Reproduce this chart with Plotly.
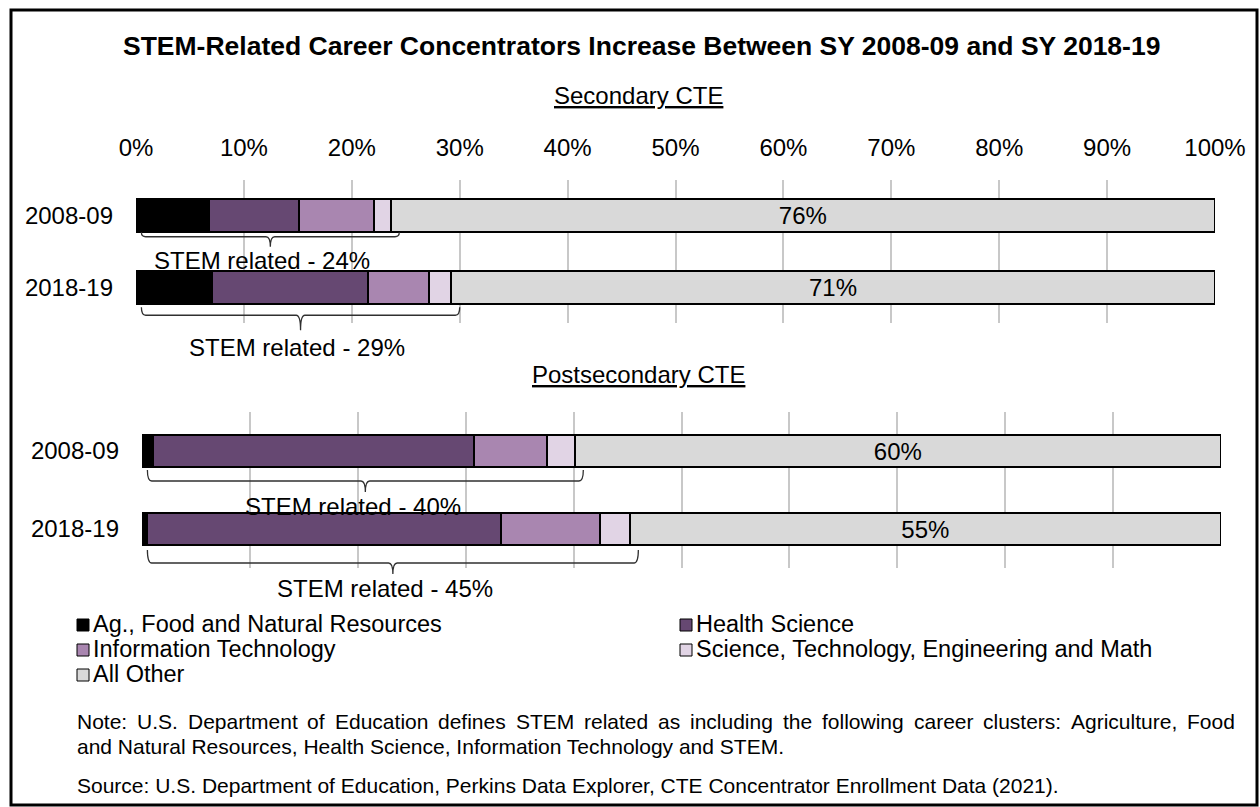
import plotly.graph_objects as go

# ---------------------------------------------------------------- data
years = ["2008-09", "2018-19"]
clusters = [
    "Ag., Food and Natural Resources",
    "Health Science",
    "Information Technology",
    "Science, Technology, Engineering and Math",
    "All Other",
]

# Secondary CTE concentrators, percent of all concentrators (2008-09, 2018-19)
sec_ag = [6.8, 7.0]
sec_health = [8.3, 14.5]
sec_it = [7.0, 5.7]
sec_stem = [1.5, 2.0]
sec_other = [76.4, 70.8]

# Postsecondary CTE concentrators, percent of all concentrators
post_ag = [1.0, 0.5]
post_health = [29.8, 32.8]
post_it = [6.7, 9.1]
post_stem = [2.6, 2.8]
post_other = [59.9, 54.8]

tick_values = list(range(0, 101, 10))
tick_labels = [f"{v}%" for v in tick_values]

note_lines = [
    "Note: U.S. Department of Education defines STEM related as including the following career clusters: Agriculture, Food",
    "and Natural Resources, Health Science, Information Technology and STEM.",
]
source_line = "Source: U.S. Department of Education, Perkins Data Explorer, CTE Concentrator Enrollment Data (2021)."

# ---------------------------------------------------------------- style
W, H = 1260, 807
FONT = "Arial, 'Liberation Sans', sans-serif"
colors = ["#000000", "#664872", "#A986B0", "#E1D4E5", "#D9D9D9"]
GRID = "#C8C8C8"

# Arial advance widths (1/1000 em) used to lay out the justified note line
_ARIAL = {" ": 278, ",": 278, ".": 278, ":": 278, "-": 333, "(": 333, ")": 333}
_ARIAL.update({d: 556 for d in "0123456789"})
_ARIAL.update(dict(zip("ABCDEFGHIJKLMNOPQRSTUVWXYZ",
                       [667, 667, 722, 722, 667, 611, 778, 722, 278, 500, 667, 556, 833,
                        722, 778, 667, 778, 722, 667, 611, 722, 667, 944, 667, 667, 611])))
_ARIAL.update(dict(zip("abcdefghijklmnopqrstuvwxyz",
                       [556, 556, 500, 556, 556, 278, 556, 556, 222, 222, 500, 222, 833,
                        556, 556, 556, 556, 333, 500, 278, 556, 500, 722, 500, 500, 500])))


def text_width(s, size):
    return sum(_ARIAL.get(c, 556) for c in s) * size / 1000


def py(px):
    """pixel row -> paper y"""
    return 1 - px / H


def pxx(px):
    """pixel column -> paper x"""
    return px / W


sections = [
    dict(
        name="Secondary CTE",
        series=[sec_ag, sec_health, sec_it, sec_stem, sec_other],
        xaxis="x", yaxis="y",
        xdom=(136, 1215), ydom=(180, 323), bar_w=0.46, title_y=95,
        # brace offsets below the bar centre: end top, horizontal, tip, label
        braces=[(16.5, 21, 31, 45), (20, 28, 43, 60)],
        label_shift=[-8, -4],
    ),
    dict(
        name="Postsecondary CTE",
        series=[post_ag, post_health, post_it, post_stem, post_other],
        xaxis="x2", yaxis="y2",
        xdom=(142, 1221), ydom=(412, 568), bar_w=0.41, title_y=374,
        braces=[(19, 30, 41, 55), (21, 34, 45, 59)],
        label_shift=[-12, -8],
    ),
]

fig = go.Figure()
shapes = []
annotations = []

for sec in sections:
    n_series = len(sec["series"])
    px_per_unit = (sec["xdom"][1] - sec["xdom"][0]) / 100
    for k, vals in enumerate(sec["series"]):
        is_other = k == n_series - 1
        fig.add_trace(go.Bar(
            y=years, x=vals, orientation="h",
            name=clusters[k], showlegend=False,
            xaxis=sec["xaxis"], yaxis=sec["yaxis"],
            width=sec["bar_w"],
            marker=dict(color=colors[k], line=dict(color="#000000", width=2)),
            text=[f"{round(v)}%" for v in vals] if is_other else None,
            textposition="inside" if is_other else "none",
            insidetextanchor="middle",
            textangle=0,
            constraintext="none",
            textfont=dict(family=FONT, size=24, color="#000000"),
            hovertemplate="%{y}: %{x:.1f}%<extra>" + clusters[k] + "</extra>",
        ))

    # braces under the STEM-related part of each bar
    y_top, y_bot = sec["ydom"]
    band = (y_bot - y_top) / len(years)
    for i, yr in enumerate(years):
        stem_total = sum(s[i] for s in sec["series"][:-1])
        centre = y_top + (i + 0.5) * band
        d_end, d_h, d_tip, d_lab = sec["braces"][i]
        x0, x1 = 0.5, stem_total + 0.8
        xm = (x0 + x1) / 2
        r = 0.4
        ye, yh, yt = py(centre + d_end), py(centre + d_h), py(centre + d_tip)
        path = (
            f"M {x0},{ye} Q {x0},{yh} {x0 + r},{yh} L {xm - r},{yh} "
            f"Q {xm},{yh} {xm},{yt} M {xm},{yt} Q {xm},{yh} {xm + r},{yh} "
            f"L {x1 - r},{yh} Q {x1},{yh} {x1},{ye}"
        )
        shapes.append(dict(
            type="path", path=path, xref=sec["xaxis"], yref="paper",
            line=dict(color="#303030", width=1.3), layer="above",
        ))
        annotations.append(dict(
            text=f"STEM related - {round(stem_total)}%",
            x=xm + sec["label_shift"][i] / px_per_unit, xref=sec["xaxis"],
            y=py(centre + d_lab), yref="paper",
            showarrow=False, xanchor="center", yanchor="middle",
            font=dict(family=FONT, size=24, color="#000000"),
        ))

    annotations.append(dict(
        text=f"<u>{sec['name']}</u>", x=pxx(638), y=py(sec["title_y"]),
        xref="paper", yref="paper", showarrow=False,
        xanchor="center", yanchor="middle",
        font=dict(family=FONT, size=24, color="#000000"),
    ))

# ---------------------------------------------------------------- legend
legend_cols = [77, 680]
legend_rows = [624, 649, 674]
sq = 12
for k, name in enumerate(clusters):
    cx = legend_cols[k % 2]
    cy = legend_rows[k // 2]
    shapes.append(dict(
        type="rect", xref="paper", yref="paper",
        x0=pxx(cx), x1=pxx(cx + sq), y0=py(cy - sq / 2 + 1), y1=py(cy + sq / 2 + 1),
        fillcolor=colors[k], line=dict(color="#000000", width=1),
    ))
    annotations.append(dict(
        text=name, x=pxx(cx + sq + 2), y=py(cy), xref="paper", yref="paper",
        showarrow=False, xanchor="left", yanchor="middle",
        font=dict(family=FONT, size=23.5, color="#000000"),
    ))

# ---------------------------------------------------------------- notes
NOTE_SIZE = 21
NOTE_LEFT, NOTE_RIGHT = 75, 1233
note_font = dict(family=FONT, size=NOTE_SIZE, color="#000000")

# first note line is justified across the frame: one text per word
words = note_lines[0].split(" ")
widths = [text_width(w, NOTE_SIZE) for w in words]
gap = (NOTE_RIGHT - NOTE_LEFT - sum(widths)) / (len(words) - 1)
xpos = NOTE_LEFT
for w, wd in zip(words, widths):
    annotations.append(dict(
        text=w, x=pxx(xpos), y=py(721), xref="paper", yref="paper",
        showarrow=False, xanchor="left", yanchor="middle", font=note_font,
    ))
    xpos += wd + gap

for txt, ypx in [(note_lines[1], 746), (source_line, 785)]:
    annotations.append(dict(
        text=txt, x=pxx(NOTE_LEFT), y=py(ypx), xref="paper", yref="paper",
        showarrow=False, xanchor="left", yanchor="middle", font=note_font,
    ))

# title
annotations.append(dict(
    text="<b>STEM-Related Career Concentrators Increase Between SY 2008-09 and SY 2018-19</b>",
    x=pxx(641), y=py(46), xref="paper", yref="paper", showarrow=False,
    xanchor="center", yanchor="middle",
    font=dict(family=FONT, size=26.5, color="#000000"),
))

# outer frame
shapes.append(dict(
    type="rect", xref="paper", yref="paper",
    x0=pxx(11), x1=pxx(1257), y0=py(805), y1=py(10),
    line=dict(color="#000000", width=3), fillcolor="rgba(0,0,0,0)",
))

axis_common = dict(
    range=[0, 100], tickvals=tick_values, ticktext=tick_labels,
    showgrid=True, gridcolor=GRID, gridwidth=2, zeroline=False,
    showline=False, ticks="", fixedrange=True, automargin=False,
    tickfont=dict(family=FONT, size=24, color="#000000"),
)
yaxis_common = dict(
    type="category", categoryorder="array", categoryarray=years,
    range=[1.5, -0.5], showgrid=False, zeroline=False, showline=False,
    ticks="", ticklabelstandoff=22, fixedrange=True, automargin=False,
    tickfont=dict(family=FONT, size=24, color="#000000"),
)

s0, s1 = sections
fig.update_layout(
    width=W, height=H,
    margin=dict(l=0, r=0, t=0, b=0, pad=0, autoexpand=False),
    paper_bgcolor="#FFFFFF", plot_bgcolor="#FFFFFF",
    barmode="stack",
    showlegend=False,
    font=dict(family=FONT, size=24, color="#000000"),
    xaxis=dict(axis_common, domain=[pxx(s0["xdom"][0]), pxx(s0["xdom"][1])],
               side="top", anchor="y", showticklabels=True, ticklabelstandoff=18),
    yaxis=dict(yaxis_common, domain=[py(s0["ydom"][1]), py(s0["ydom"][0])], anchor="x"),
    xaxis2=dict(axis_common, domain=[pxx(s1["xdom"][0]), pxx(s1["xdom"][1])],
                anchor="y2", showticklabels=False),
    yaxis2=dict(yaxis_common, domain=[py(s1["ydom"][1]), py(s1["ydom"][0])], anchor="x2"),
    shapes=shapes,
    annotations=annotations,
)

fig.write_html("out.html")
